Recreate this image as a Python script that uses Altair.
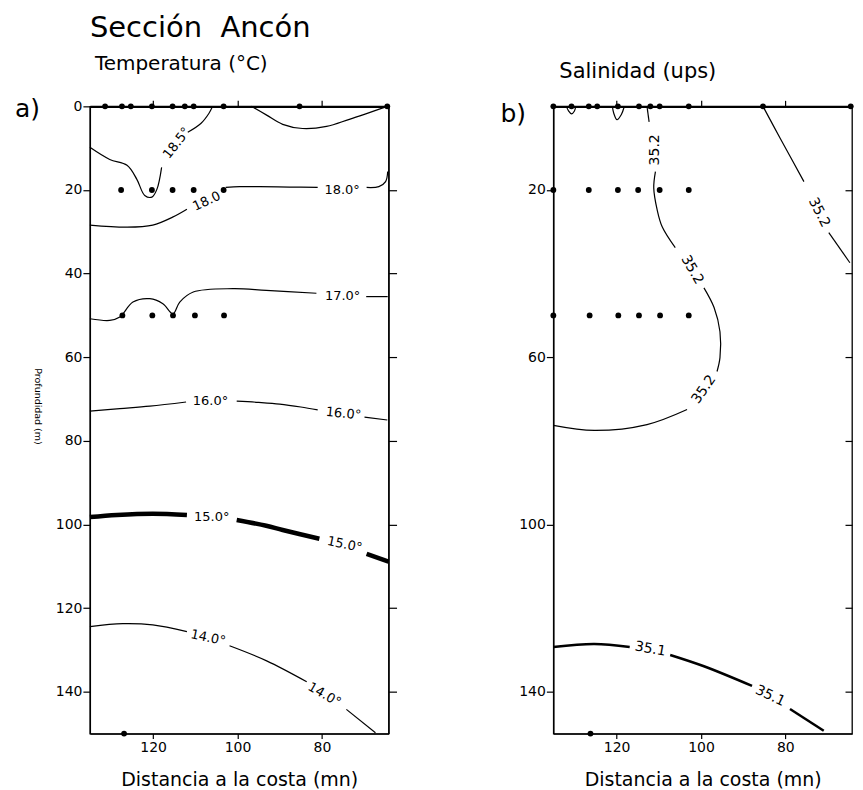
import altair as alt
import pandas as pd

FONT = "DejaVu Sans"

# ---------------- Panel a: Temperatura ----------------
# contour segments: distance to coast (mn) / depth (m)
T185_1_d = [135, 130.3, 126.2, 123.9, 122.0, 120.3, 119.1, 118.0]
T185_1_z = [9.8, 12.7, 14.1, 17.4, 21.3, 21.7, 19.8, 14.6]
T185_2_d = [111.8, 108.7, 106.8, 105.9]
T185_2_z = [6.2, 4.1, 1.7, 0]
T185_3_d = [96.7, 93.1, 89.3, 84.6, 78.9, 73.5, 64.5]
T185_3_z = [0, 2.1, 4.3, 5.3, 4.8, 3.1, 0]
T180_1_d = [135, 126.2, 120.1, 115.4, 112.0]
T180_1_z = [28.4, 28.9, 28.4, 26.5, 24.6]
T180_2_d = [102.8, 99.5, 94.8, 87.7, 81.0]
T180_2_z = [19.4, 19.2, 19.2, 19.3, 19.4]
T180_3_d = [69.4, 66.5, 64.9, 64.4]
T180_3_z = [19.4, 19.2, 18.0, 15.6]
T170_1_d = [135, 130.3, 127.9, 124.8, 120.8, 117.7, 115.3, 113.7, 110.5, 101.1, 93.2, 81.3]
T170_1_z = [50.8, 51.2, 50.4, 46.8, 46.0, 47.2, 49.6, 46.8, 44.4, 43.6, 44.0, 44.7]
T170_2_d = [69.5, 64.4]
T170_2_z = [45.5, 45.5]
T160_1_d = [135, 127.9, 120.8, 112.2]
T160_1_z = [72.9, 72.3, 71.7, 70.7]
T160_2_d = [100.2, 95.0, 90.0, 85.0, 81.0]
T160_2_z = [70.5, 70.8, 71.2, 71.9, 72.6]
T160_3_d = [69.9, 64.5]
T160_3_z = [74.3, 75.0]
T150_1_d = [135, 128.6, 120.1, 112.0]
T150_1_z = [98.2, 97.7, 97.4, 97.7]
T150_2_d = [100.2, 93.2, 89.3, 80.6]
T150_2_z = [98.9, 100.3, 101.3, 103.4]
T150_3_d = [69.4, 64.2]
T150_3_z = [107.0, 108.9]
T140_1_d = [135, 127.2, 120.1, 112.0]
T140_1_z = [124.4, 123.7, 124.0, 125.6]
T140_2_d = [101.9, 93.1, 83.6]
T140_2_z = [129.0, 132.6, 137.6]
T140_3_d = [74.2, 67.3]
T140_3_z = [144.2, 149.8]

SEG_A = [
    ("t185_1", T185_1_d, T185_1_z, 1.2), ("t185_2", T185_2_d, T185_2_z, 1.2),
    ("t185_3", T185_3_d, T185_3_z, 1.2),
    ("t180_1", T180_1_d, T180_1_z, 1.2), ("t180_2", T180_2_d, T180_2_z, 1.2),
    ("t180_3", T180_3_d, T180_3_z, 1.2),
    ("t170_1", T170_1_d, T170_1_z, 1.2), ("t170_2", T170_2_d, T170_2_z, 1.2),
    ("t160_1", T160_1_d, T160_1_z, 1.2), ("t160_2", T160_2_d, T160_2_z, 1.2),
    ("t160_3", T160_3_d, T160_3_z, 1.2),
    ("t150_1", T150_1_d, T150_1_z, 4.5), ("t150_2", T150_2_d, T150_2_z, 4.5),
    ("t150_3", T150_3_d, T150_3_z, 4.5),
    ("t140_1", T140_1_d, T140_1_z, 1.2), ("t140_2", T140_2_d, T140_2_z, 1.2),
    ("t140_3", T140_3_d, T140_3_z, 1.2),
]

LAB_A_text = ["18.5°", "18.0", "18.0°", "17.0°", "16.0°", "16.0°", "15.0°", "15.0°", "14.0°", "14.0°"]
LAB_A_d = [114.4, 107.3, 75.2, 75.1, 106.4, 74.9, 106.1, 74.6, 107.0, 79.4]
LAB_A_z = [8.8, 22.7, 19.9, 45.3, 70.5, 73.5, 98.2, 104.8, 127.1, 140.7]
LAB_A_ang = [308, 335, 0, 0, 0, 6, 0, 12, 12, 30]

STA_A_D0 = [131.4, 127.4, 125.3, 120.3, 115.4, 112.5, 110.4, 103.3, 85.3, 64.5]
STA_A_D20 = [127.6, 120.3, 115.4, 110.4, 103.3]
STA_A_D50 = [127.3, 120.2, 115.3, 110.1, 103.2]
STA_A_D150 = [126.9]

# ---------------- Panel b: Salinidad ----------------
S352_1_d = [112.8, 112.3]
S352_1_z = [0, 3.7]
S352_2_d = [110.8, 111.2, 110.4, 109.2, 106.1]
S352_2_z = [15.6, 19.5, 24.7, 28.8, 33.8]
S352_3_d = [99.3, 96.9, 95.5, 95.5, 96.2]
S352_3_z = [43.4, 48.1, 53.9, 60.1, 63.4]
S352_4_d = [103.3, 112.8, 125.3, 135]
S352_4_z = [72.5, 76.1, 77.5, 76.3]
S352_5_d = [85.3, 81.3, 75.6]
S352_5_z = [0, 7.5, 18.0]
S352_6_d = [69.7, 64.7]
S352_6_z = [30.2, 37.4]
SL1_d = [131.9, 131.4, 130.7, 130.0, 129.7]
SL1_z = [0, 1.1, 1.8, 1.1, 0]
SL2_d = [121.0, 120.7, 119.9, 118.9, 118.2]
SL2_z = [0, 1.6, 3.2, 2.0, 0.1]
S351_1_d = [135, 125.3, 116.9]
S351_1_z = [129.3, 128.6, 129.3]
S351_2_d = [107.3, 99.3, 87.9]
S351_2_z = [131.2, 133.9, 138.6]
S351_3_d = [78.9, 70.9]
S351_3_z = [144.1, 149.3]

SEG_B = [
    ("s352_1", S352_1_d, S352_1_z, 1.2), ("s352_2", S352_2_d, S352_2_z, 1.2),
    ("s352_3", S352_3_d, S352_3_z, 1.2), ("s352_4", S352_4_d, S352_4_z, 1.2),
    ("s352_5", S352_5_d, S352_5_z, 1.2), ("s352_6", S352_6_d, S352_6_z, 1.2),
    ("sl1", SL1_d, SL1_z, 1.2), ("sl2", SL2_d, SL2_z, 1.2),
    ("s351_1", S351_1_d, S351_1_z, 2.5), ("s351_2", S351_2_d, S351_2_z, 2.5),
    ("s351_3", S351_3_d, S351_3_z, 2.5),
]

LAB_B_text = ["35.2", "35.2", "35.2", "35.2", "35.1", "35.1"]
LAB_B_d = [110.9, 102.1, 99.3, 72.0, 112.0, 83.6]
LAB_B_z = [10.4, 39.1, 67.7, 25.4, 129.8, 141.0]
LAB_B_ang = [270, 60, 305, 63, 10, 25]

STA_B_D0 = [135, 130.7, 126.6, 124.6, 119.7, 114.7, 112.0, 109.8, 102.9, 85.3, 64.5]
STA_B_D20 = [135, 126.6, 119.7, 114.9, 109.8, 102.9]
STA_B_D50 = [135, 126.4, 119.6, 114.7, 109.7, 102.9]
STA_B_D150 = [126.2]

X_TICKS = [120, 100, 80]
Y_TICKS_A = [0, 20, 40, 60, 80, 100, 120, 140]
Y_TICKS_B = [20, 60, 100, 140]
Y_TICKS_R = [20, 40, 60, 80, 100, 120, 140]

W, H = 299, 628


def seg_df(segs):
    rows = []
    for sid, ds, zs, w in segs:
        for i, (d, z) in enumerate(zip(ds, zs)):
            rows.append({"seg": sid, "i": i, "dist": d, "depth": z, "w": w})
    return pd.DataFrame(rows)


def sta_df(d0, d20, d50, d150):
    rows = []
    for z, ds in ((0, d0), (20, d20), (50, d50), (150, d150)):
        for d in ds:
            rows.append({"dist": d, "depth": z})
    return pd.DataFrame(rows)


def lab_df(t, d, z, a):
    return pd.DataFrame({"t": t, "dist": d, "depth": z, "ang": a})


xs = alt.Scale(domain=[135, 64.2], nice=False, zero=False)
ys = alt.Scale(domain=[0, 150], reverse=True, nice=False, zero=False)


def note(txt, x, y, size, color="black"):
    return alt.Chart(pd.DataFrame({"t": [txt]})).mark_text(
        align="left", baseline="alphabetic", fontSize=size, font=FONT, color=color
    ).encode(text="t:N", x=alt.value(x), y=alt.value(y))


def panel(segs, labs, stas, yvals, ytitle, lab_size, notes, right_inside):
    bottom_axis = alt.Axis(orient="bottom", values=X_TICKS, tickSize=5, labelPadding=2,
                           labelFontSize=14, title="Distancia a la costa (mn)",
                           titleFontSize=19, titleFontWeight="normal", titlePadding=16,
                           grid=False, format="d")
    if ytitle:
        left_axis = alt.Axis(orient="left", values=yvals, tickSize=7, labelPadding=1,
                             labelFontSize=14, labelFlush=False, grid=False, format="d",
                             title=ytitle, titleFontSize=9.5, titleFontWeight="normal",
                             titleAngle=90, titleX=-52, titleY=300, titleAlign="center",
                             titleBaseline="middle")
    else:
        left_axis = alt.Axis(orient="left", values=yvals, tickSize=7, labelPadding=1,
                             labelFontSize=14, labelFlush=False, grid=False, format="d",
                             title=None)
    top_axis = alt.Axis(orient="top", values=X_TICKS, labels=False, tickSize=6,
                        domainWidth=2.2, grid=False, title=None)
    if right_inside:
        right_axis = alt.Axis(orient="right", values=Y_TICKS_R, labels=False, tickSize=7,
                              offset=-7, domain=False, grid=False, title=None)
    else:
        right_axis = alt.Axis(orient="right", values=Y_TICKS_R, labels=False, tickSize=8,
                              grid=False, title=None)

    lines = alt.Chart(segs).mark_line(interpolate="catmull-rom", color="black").encode(
        x=alt.X("dist:Q", scale=xs, axis=bottom_axis),
        y=alt.Y("depth:Q", scale=ys, axis=left_axis),
        detail="seg:N",
        order="i:Q",
        strokeWidth=alt.StrokeWidth("w:Q", scale=None),
    )
    texts = alt.Chart(labs).mark_text(font=FONT, fontSize=lab_size, color="black",
                                      align="center", baseline="middle").encode(
        x=alt.X("dist:Q", scale=xs, axis=None),
        y=alt.Y("depth:Q", scale=ys, axis=None),
        text="t:N",
        angle=alt.Angle("ang:Q", scale=None),
    )
    pts = alt.Chart(stas).mark_circle(size=34, color="black", opacity=1).encode(
        x=alt.X("dist:Q", scale=xs, axis=top_axis),
        y=alt.Y("depth:Q", scale=ys, axis=right_axis),
    )
    layers = [lines, texts, pts] + [note(*n) for n in notes]
    return alt.layer(*layers).properties(width=W, height=H)


pa = panel(seg_df(SEG_A), lab_df(LAB_A_text, LAB_A_d, LAB_A_z, LAB_A_ang),
           sta_df(STA_A_D0, STA_A_D20, STA_A_D50, STA_A_D150),
           Y_TICKS_A, "Profundidad (m)", 13,
           [("Sección\u00a0\u00a0Ancón", 0, -69, 29),
            ("Temperatura (°C)", 5, -36, 20),
            ("a)", -75, 11, 25)], False)

pb = panel(seg_df(SEG_B), lab_df(LAB_B_text, LAB_B_d, LAB_B_z, LAB_B_ang),
           sta_df(STA_B_D0, STA_B_D20, STA_B_D50, STA_B_D150),
           Y_TICKS_B, None, 14,
           [("Salinidad (ups)", 6, -28, 21),
            ("b)", -53, 16, 25)], True)

chart = alt.hconcat(pa, pb, spacing=165, bounds="flush").properties(
    padding={"left": 6, "top": 5, "right": 0, "bottom": 0}
).configure_axis(
    domainColor="black", tickColor="black", labelColor="black", titleColor="black",
    labelFont=FONT, titleFont=FONT, tickWidth=1.2, domainWidth=1.3, grid=False
).configure_view(stroke="black", strokeWidth=1.3)

chart.save("out.html", embed_options={"renderer": "svg", "actions": False})
